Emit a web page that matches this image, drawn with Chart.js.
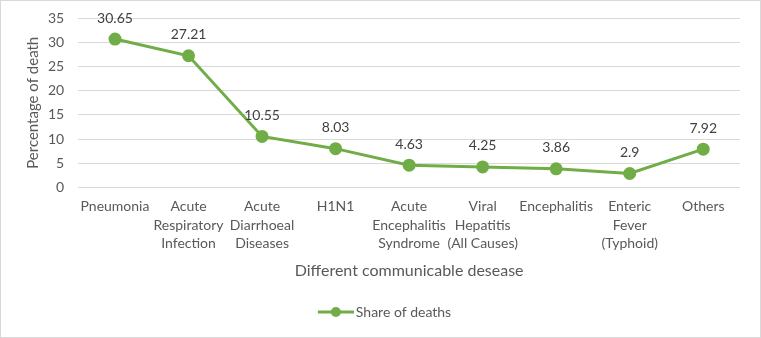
<!DOCTYPE html>
<html>
<head>
<meta charset="utf-8">
<script src="https://cdn.jsdelivr.net/npm/chart.js@4"></script>
<style>
  html, body { margin: 0; padding: 0; background: #fff; }
  #wrap { width: 759px; height: 336px; border: 1px solid #d9d9d9; position: relative; }
</style>
</head>
<body>
<div id="wrap"><canvas id="chart"></canvas></div>
<script>
// Share of deaths by communicable disease
const diseases = [
  "Pneumonia",
  ["Acute", "Respiratory", "Infection"],
  ["Acute", "Diarrhoeal", "Diseases"],
  "H1N1",
  ["Acute", "Encephalitis", "Syndrome"],
  ["Viral", "Hepatitis", "(All Causes)"],
  "Encephalitis",
  ["Enteric", "Fever", "(Typhoid)"],
  "Others"
];
const shareOfDeaths = [30.65, 27.21, 10.55, 8.03, 4.63, 4.25, 3.86, 2.9, 7.92];
const yTicks = [0, 5, 10, 15, 20, 25, 30, 35];

const green = "#70ad47";
const textColor = "#595959";
const fontFamily = "Lato, 'Open Sans', sans-serif";

// legend marker: line with a dot, placed on the right part of the image
// so the legend item sits where Excel puts it
function legendMarker() {
  const c = document.createElement("canvas");
  c.width = 60;
  c.height = 12;
  const ctx = c.getContext("2d");
  ctx.strokeStyle = green;
  ctx.lineWidth = 3;
  ctx.beginPath();
  ctx.moveTo(24, 6);
  ctx.lineTo(60, 6);
  ctx.stroke();
  ctx.fillStyle = green;
  ctx.beginPath();
  ctx.arc(42, 6, 5, 0, Math.PI * 2);
  ctx.fill();
  return c;
}

const valueLabels = {
  id: "valueLabels",
  afterDatasetsDraw(chart) {
    const ctx = chart.ctx;
    const meta = chart.getDatasetMeta(0);
    ctx.save();
    ctx.font = "14px " + fontFamily;
    ctx.fillStyle = "#404040";
    ctx.textAlign = "center";
    ctx.textBaseline = "middle";
    meta.data.forEach((pt, i) => {
      ctx.fillText(String(shareOfDeaths[i]), pt.x, pt.y - 21);
    });
    ctx.restore();
  }
};

function initChart() {
  const el = document.getElementById("chart");
  const marker = legendMarker();
  new Chart(el, {
    type: "line",
    data: {
      labels: diseases,
      datasets: [
        {
          label: "Share of deaths",
          data: shareOfDeaths,
          borderColor: green,
          backgroundColor: green,
          borderWidth: 3,
          pointRadius: 5,
          pointBackgroundColor: green,
          pointBorderColor: green,
          fill: false,
          tension: 0
        }
      ]
    },
    options: {
      responsive: true,
      maintainAspectRatio: false,
      animation: false,
      layout: { padding: { top: 17, right: 20, left: 9, bottom: 8 } },
      plugins: {
        tooltip: { enabled: false },
        legend: {
          position: "bottom",
          labels: {
            color: textColor,
            font: { family: fontFamily, size: 14 },
            usePointStyle: true,
            pointStyleWidth: 50,
            generateLabels(chart) {
              const ds = chart.data.datasets[0];
              return [{
                text: ds.label,
                pointStyle: marker,
                fontColor: textColor,
                strokeStyle: green,
                fillStyle: green,
                datasetIndex: 0
              }];
            },
            boxWidth: 50,
            padding: 14
          }
        }
      },
      scales: {
        x: {
          offset: true,
          grid: { display: false },
          border: { display: false },
          // labels fit inside their category slots, no extra side padding
          afterFit(scale) {
            scale.paddingLeft = 0;
            scale.paddingRight = 0;
          },
          ticks: {
            color: textColor,
            font: { family: fontFamily, size: 14, lineHeight: 1.32 },
            maxRotation: 0,
            autoSkip: false,
            padding: 2
          },
          title: {
            display: true,
            text: "Different communicable desease",
            color: textColor,
            font: { family: fontFamily, size: 16, lineHeight: 1 },
            padding: { top: 8, bottom: 12 }
          }
        },
        y: {
          min: 0,
          max: 35,
          afterBuildTicks(axis) {
            axis.ticks = yTicks.map((v) => ({ value: v }));
          },
          afterFit(scale) {
            scale.paddingTop = 0;
            scale.paddingBottom = 0;
          },
          grid: { color: "#d9d9d9", drawTicks: false },
          border: { display: false },
          ticks: {
            color: textColor,
            font: { family: fontFamily, size: 14 },
            padding: 14
          },
          title: {
            display: true,
            text: "Percentage of death",
            color: textColor,
            font: { family: fontFamily, size: 15 },
            padding: { top: 14, bottom: -8 }
          }
        }
      }
    },
    plugins: [valueLabels]
  });
}

if (document.readyState === "loading") {
  document.addEventListener("DOMContentLoaded", initChart);
} else {
  initChart();
}
</script>
</body>
</html>
